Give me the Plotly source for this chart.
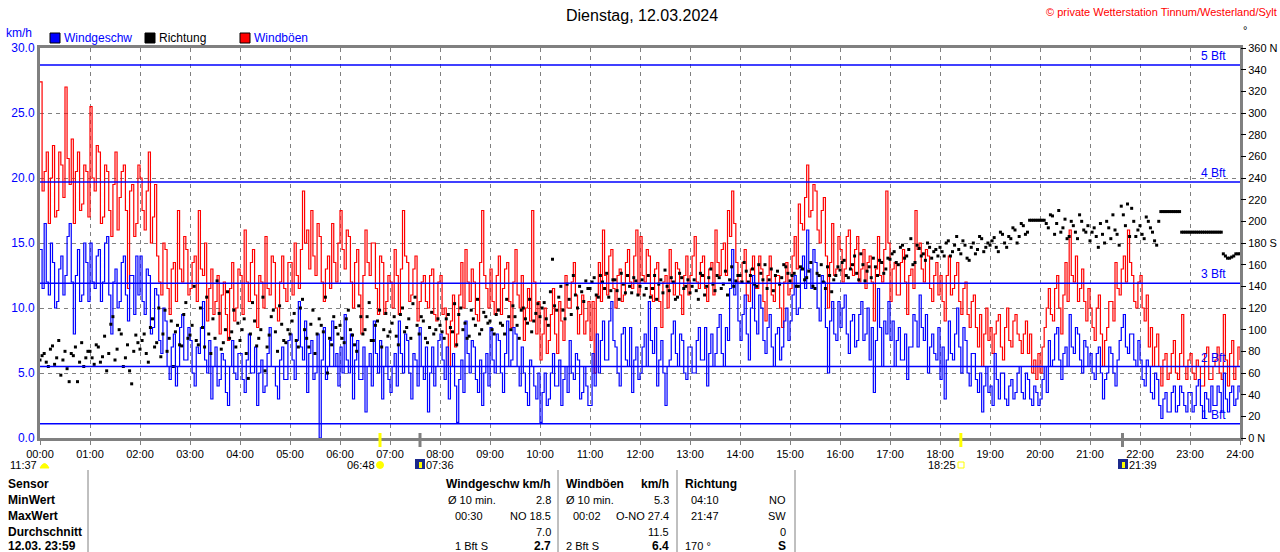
import plotly.graph_objects as go

# ---------------- data ----------------
# readings on the full 5-minute marks (00:00, 00:05, ... 24:00)
wind_speed = [
    14.5, 16.5, 11.0, 13.5, 10.5, 14.0, 12.5, 16.5, 8.0, 14.5, 11.0, 13.5,   # 00
    15.0, 11.5, 14.5, 12.0, 15.5, 8.0, 13.0, 10.5, 14.0, 9.0, 12.5, 14.0,    # 01
    14.0, 9.5, 12.5, 8.5, 11.0, 6.5, 9.0, 4.5, 8.0, 5.5, 9.5, 6.0,           # 02
    7.5, 4.0, 6.5, 10.5, 5.0, 3.0, 7.0, 4.5, 6.0, 2.5, 7.5, 4.5,             # 03
    6.5, 3.5, 8.0, 5.0, 2.5, 6.0, 4.0, 8.5, 5.5, 3.0, 7.0, 4.5,              # 04
    8.0, 4.5, 10.5, 6.0, 3.5, 7.5, 5.0, 0.0, 8.5, 5.5, 9.0, 6.5,             # 05
    7.0, 9.5, 5.0, 3.0, 7.5, 4.5, 2.0, 6.5, 9.0, 5.0, 3.0, 7.0,              # 06
    3.5, 6.5, 9.0, 5.0, 7.5, 3.0, 6.0, 8.5, 4.5, 2.0, 7.0, 5.5,              # 07
    8.0, 4.5, 3.0, 6.5, 1.2, 6.0, 9.0, 5.0, 7.0, 3.5, 2.5, 6.5,              # 08
    8.5, 5.0, 7.5, 3.5, 9.0, 6.0, 8.0, 4.0, 5.0, 2.5, 5.5, 3.0,              # 09
    1.2, 5.0, 3.0, 6.5, 4.0, 2.5, 5.5, 7.5, 4.5, 6.0, 3.5, 4.0,              # 10
    2.5, 4.0, 5.0, 9.0, 6.0, 10.5, 7.0, 4.0, 8.5, 5.5, 3.5, 7.0,             # 11
    5.0, 8.0, 10.5, 6.5, 4.0, 7.5, 2.5, 6.0, 9.0, 5.5, 7.5, 4.5,             # 12
    7.0, 5.0, 8.5, 6.0, 4.0, 8.0, 6.5, 9.5, 5.5, 7.5, 14.5, 12.0,            # 13
    7.5, 11.0, 6.0, 12.5, 8.0, 10.0, 6.5, 9.5, 5.5, 8.5, 7.0, 10.0,          # 14
    9.0, 12.5, 10.0, 14.0, 16.0, 11.5, 13.5, 9.0, 12.0, 5.0, 10.5, 7.5,      # 15
    8.5, 11.0, 6.5, 9.5, 7.5, 10.5, 8.0, 6.0, 3.5, 11.5, 5.5, 8.0,           # 16
    7.5, 5.5, 8.5, 6.0, 4.5, 7.0, 9.0, 11.0, 7.5, 5.0, 8.0, 6.0,             # 17
    4.5, 3.0, 9.0, 6.0, 10.0, 5.0, 7.5, 4.0, 6.5, 3.5, 2.0, 5.5,             # 18
    4.0, 6.5, 3.0, 5.0, 2.5, 4.5, 3.5, 5.5, 3.0, 4.5, 2.5, 3.5,              # 19
    3.0, 5.5, 7.5, 6.0, 8.5, 4.5, 7.0, 9.5, 6.5, 8.0, 5.0, 7.0,              # 20
    6.5, 4.5, 7.0, 3.0, 5.0, 6.5, 4.0, 7.5, 9.5, 6.5, 8.0, 5.5,              # 21
    6.0, 4.0, 5.5, 3.0, 4.5, 1.5, 3.5, 2.0, 4.0, 2.5, 3.5, 2.0,              # 22
    3.5, 2.5, 4.5, 1.5, 3.0, 4.0, 2.5, 3.5, 5.0, 2.0, 4.0, 3.0,              # 23
    3.5,
]
# readings half-way between the 5-minute marks (00:02:30, 00:07:30, ...)
wind_speed_mid = [
    11.5, 12.0, 15.0, 10.0, 13.0, 11.0, 15.5, 12.0, 12.5, 10.5, 15.0, 10.5,
    12.0, 14.0, 10.5, 15.0, 11.0, 12.0, 10.0, 13.5, 11.0, 12.5, 9.5, 11.0,
    10.5, 13.0, 8.0, 11.5, 7.5, 10.0, 5.5, 7.0, 4.0, 8.5, 6.0, 8.5,
    5.0, 7.0, 8.5, 6.0, 7.5, 5.5, 4.0, 6.5, 3.5, 5.5, 5.0, 6.5,
    4.5, 6.0, 5.0, 7.0, 5.0, 3.5, 6.5, 5.5, 4.0, 6.0, 4.5, 7.5,
    6.0, 7.5, 7.0, 9.0, 6.5, 4.5, 8.0, 6.0, 4.5, 7.5, 5.5, 4.0,
    5.0, 6.0, 8.0, 6.0, 4.5, 7.0, 5.5, 4.0, 6.5, 7.5, 5.5, 4.5,
    5.5, 4.0, 6.5, 8.0, 5.0, 6.5, 4.0, 5.5, 7.0, 5.0, 4.0, 7.5,
    6.0, 7.0, 5.5, 4.0, 4.5, 3.5, 6.5, 7.5, 4.5, 6.0, 5.0, 4.0,
    6.0, 8.0, 5.0, 6.5, 5.5, 8.5, 5.5, 7.0, 3.5, 6.0, 4.0, 5.0,
    3.5, 2.5, 5.0, 4.0, 6.0, 4.5, 3.5, 5.0, 6.5, 3.0, 5.5, 2.5,
    6.5, 8.0, 7.5, 6.0, 9.0, 7.5, 5.0, 8.0, 6.0, 8.5, 6.0, 4.5,
    7.0, 5.5, 7.5, 8.5, 6.0, 5.0, 5.5, 8.0, 6.5, 8.0, 5.0, 7.0,
    5.0, 7.5, 6.0, 8.5, 6.5, 5.5, 8.5, 6.5, 8.5, 11.5, 11.0, 9.0,
    9.5, 8.0, 10.0, 9.0, 11.0, 7.5, 8.5, 7.0, 8.0, 6.0, 9.0, 7.5,
    11.0, 9.5, 13.0, 11.5, 13.0, 14.5, 10.0, 12.5, 8.5, 9.0, 8.0, 10.5,
    10.0, 8.0, 9.0, 7.0, 9.5, 7.5, 10.0, 8.5, 7.5, 8.5, 9.0, 10.5,
    9.0, 7.5, 6.0, 8.0, 7.0, 9.5, 7.0, 8.5, 9.5, 7.0, 6.5, 8.5,
    7.0, 6.0, 6.5, 8.0, 7.0, 8.5, 5.0, 6.5, 4.5, 5.0, 4.0, 3.5,
    2.5, 4.5, 5.0, 3.0, 4.0, 3.0, 5.0, 3.5, 5.0, 3.0, 4.0, 2.5,
    4.5, 3.5, 5.5, 8.0, 6.0, 6.5, 5.5, 7.0, 8.5, 6.0, 7.5, 5.5,
    5.0, 6.5, 5.0, 4.5, 7.0, 5.0, 6.0, 8.5, 7.0, 8.0, 6.0, 7.5,
    4.5, 6.0, 3.5, 5.0, 2.5, 3.0, 2.0, 3.5, 2.0, 4.0, 2.5, 3.5,
    2.0, 4.0, 2.5, 3.5, 2.0, 2.5, 4.0, 2.0, 3.0, 3.5, 2.5, 4.0,
]

wind_gust = [
    27.4, 20.5, 16.5, 22.5, 17.5, 21.0, 27.0, 19.5, 16.5, 22.0, 18.0, 20.5,  # 00
    25.5, 19.0, 22.0, 17.0, 20.5, 15.5, 22.0, 18.5, 21.0, 11.5, 19.5, 16.5,  # 01
    20.0, 16.0, 22.0, 17.0, 14.0, 11.0, 14.5, 9.5, 13.5, 17.5, 12.0, 14.5,   # 02
    11.5, 14.0, 17.5, 12.5, 9.0, 13.0, 10.5, 8.0, 12.0, 7.5, 13.5, 10.0,     # 03
    12.5, 16.0, 10.5, 14.5, 8.5, 12.0, 15.5, 11.0, 13.5, 9.0, 14.0, 10.5,    # 04
    13.5, 15.0, 11.5, 19.0, 16.0, 17.5, 12.5, 15.5, 10.5, 14.0, 16.5, 12.0,  # 05
    17.5, 13.0, 15.5, 10.0, 14.5, 8.0, 16.0, 12.5, 15.0, 9.5, 13.5, 10.5,    # 06
    12.0, 14.5, 9.5, 17.5, 13.5, 11.0, 14.0, 10.5, 12.5, 10.0, 13.0, 9.0,    # 07
    12.5, 10.0, 5.5, 11.0, 8.0, 13.5, 14.5, 10.5, 12.0, 9.0, 17.5, 11.5,     # 08
    13.0, 9.5, 14.0, 11.5, 13.5, 8.5, 14.5, 10.0, 7.5, 11.5, 17.5, 8.0,      # 09
    6.0, 10.0, 7.5, 11.5, 6.5, 9.0, 12.5, 10.0, 13.5, 8.0, 11.0, 9.0,        # 10
    7.5, 5.0, 13.5, 16.0, 11.0, 14.5, 10.0, 13.0, 11.0, 14.5, 11.5, 16.0,    # 11
    15.5, 12.0, 14.0, 10.5, 13.5, 8.5, 12.5, 14.5, 11.0, 13.0, 9.5, 14.0,    # 12
    12.5, 15.5, 11.5, 14.0, 10.5, 13.5, 16.0, 12.5, 15.0, 17.5, 19.0, 13.5,  # 13
    12.0, 14.5, 10.5, 14.0, 11.5, 13.0, 9.0, 14.0, 10.5, 12.5, 8.5, 13.5,    # 14
    11.5, 15.5, 18.0, 16.0, 21.0, 17.5, 19.0, 15.0, 18.5, 10.0, 16.5, 13.0,  # 15
    14.5, 13.0, 16.0, 12.5, 15.5, 13.0, 11.5, 14.0, 9.0, 15.5, 12.0, 19.0,   # 16
    10.5, 13.5, 11.0, 14.5, 9.5, 13.0, 17.5, 15.0, 12.0, 14.0, 10.5, 13.5,   # 17
    12.5, 9.0, 14.0, 11.5, 13.5, 9.5, 12.0, 8.5, 11.0, 7.0, 5.5, 10.0,       # 18
    8.5, 8.0, 9.5, 6.0, 10.0, 7.0, 9.5, 7.5, 8.0, 6.5, 5.0, 4.5,             # 19
    5.0, 8.5, 11.5, 9.0, 12.5, 8.0, 13.5, 16.0, 12.0, 10.5, 13.0, 9.0,       # 20
    10.0, 7.5, 11.0, 5.5, 8.5, 10.5, 13.5, 11.0, 14.0, 16.0, 12.5, 10.0,     # 21
    12.5, 9.0, 7.0, 5.5, 8.0, 4.0, 6.5, 5.0, 7.5, 4.5, 9.5, 4.5,             # 22
    6.5, 4.5, 5.5, 4.0, 7.0, 4.5, 6.0, 5.0, 9.5, 4.0, 7.5, 5.5,              # 23
    6.0,
]
wind_gust_mid = [
    19.0, 22.0, 20.0, 17.0, 22.0, 18.5, 21.5, 23.0, 20.5, 17.5, 21.0, 17.0,
    20.0, 22.5, 16.5, 21.0, 17.5, 19.5, 16.0, 20.5, 17.5, 19.0, 15.5, 21.0,
    17.5, 19.0, 15.0, 19.5, 12.0, 15.0, 11.5, 13.0, 10.5, 13.0, 15.5, 11.0,
    13.5, 10.5, 13.0, 15.0, 11.5, 9.5, 12.5, 11.0, 9.5, 11.5, 9.0, 13.0,
    9.5, 12.0, 13.5, 11.0, 12.5, 10.0, 11.5, 14.0, 10.0, 12.0, 11.5, 13.5,
    11.0, 12.5, 14.5, 15.0, 13.0, 14.0, 16.5, 12.0, 13.0, 11.5, 13.5, 15.0,
    14.5, 16.0, 12.0, 13.5, 11.0, 12.5, 13.5, 15.0, 11.5, 14.0, 9.5, 12.5,
    10.0, 12.5, 13.0, 14.0, 10.5, 13.0, 9.0, 12.0, 10.5, 12.5, 9.5, 12.0,
    9.5, 8.0, 9.0, 7.0, 11.0, 10.0, 12.0, 13.0, 9.5, 13.5, 12.5, 10.0,
    10.5, 12.5, 9.5, 13.0, 10.5, 12.0, 11.0, 12.5, 10.0, 9.0, 12.0, 10.5,
    8.0, 6.5, 9.5, 8.0, 10.5, 7.5, 10.0, 12.0, 11.0, 9.5, 8.0, 10.5,
    10.5, 11.0, 10.5, 12.5, 14.0, 11.5, 12.5, 10.5, 13.5, 12.0, 14.0, 11.0,
    12.5, 14.5, 11.0, 13.0, 10.5, 12.0, 10.0, 12.0, 13.5, 11.0, 12.5, 11.0,
    14.0, 12.0, 13.5, 11.5, 13.0, 11.0, 13.5, 14.5, 12.5, 15.5, 16.5, 12.0,
    13.5, 11.0, 13.0, 11.5, 14.0, 10.5, 12.5, 11.0, 12.5, 10.0, 12.0, 11.0,
    14.0, 13.0, 16.5, 18.5, 17.0, 19.5, 16.0, 17.5, 14.0, 13.5, 12.5, 15.5,
    12.0, 15.5, 13.0, 14.5, 12.0, 14.5, 13.5, 12.0, 13.0, 12.5, 14.5, 15.0,
    13.0, 11.0, 13.5, 12.0, 12.5, 11.5, 14.5, 13.0, 14.5, 11.5, 12.5, 11.0,
    10.5, 12.5, 11.0, 12.5, 10.5, 11.5, 9.5, 10.5, 8.5, 9.5, 8.0, 7.5,
    6.5, 9.0, 7.0, 8.5, 7.5, 9.0, 8.0, 6.5, 9.0, 8.0, 6.0, 6.5,
    7.0, 10.0, 9.5, 11.5, 10.0, 11.0, 10.5, 12.5, 14.0, 11.5, 10.5, 11.5,
    8.5, 10.0, 8.0, 7.5, 10.5, 9.0, 11.5, 13.0, 12.0, 13.5, 10.5, 12.0,
    10.0, 11.0, 8.5, 7.0, 5.5, 6.0, 4.5, 6.5, 5.0, 6.5, 5.5, 6.0,
    5.0, 6.0, 4.0, 6.5, 4.5, 5.5, 7.0, 4.5, 6.0, 6.5, 4.5, 7.0,
]

wind_dir = [
    72, 78, 66, 85, 74, 58, 80, 52, 76, 52, 88, 74,              # 00
    80, 68, 84, 75, 62, 105, 72, 100, 66, 86, 50, 95,            # 01
    82, 96, 70, 110, 88, 75, 118, 92, 66, 104, 85, 125,          # 02
    95, 140, 86, 102, 130, 78, 92, 115, 88, 135, 98, 84,         # 03
    90, 110, 55, 125, 85, 100, 62, 95, 118, 80, 105, 88,         # 04
    96, 115, 84, 128, 92, 105, 78, 110, 98, 60, 86, 102,         # 05
    104, 88, 118, 95, 80, 112, 100, 125, 90, 108, 84, 115,       # 06
    98, 112, 86, 120, 102, 92, 130, 96, 108, 88, 116, 100,       # 07
    104, 92, 114, 98, 86, 120, 106, 94, 110, 128, 100, 112,      # 08
    108, 96, 118, 104, 128, 100, 112, 92, 120, 106, 98, 115,     # 09
    112, 125, 104, 165, 118, 140, 110, 128, 150, 120, 135, 145,  # 10
    138, 148, 130, 144, 152, 136, 146, 128, 142, 150, 134, 145,  # 11
    140, 132, 150, 138, 128, 146, 155, 136, 144, 130, 148, 140,  # 12
    134, 146, 128, 150, 140, 156, 136, 148, 142, 132, 158, 145,  # 13
    150, 162, 144, 156, 140, 152, 160, 146, 136, 154, 148, 158,  # 14
    145, 152, 140, 156, 148, 162, 138, 150, 144, 158, 135, 150,  # 15
    155, 164, 148, 160, 152, 170, 145, 158, 166, 150, 162, 156,  # 16
    165, 172, 160, 178, 168, 184, 162, 175, 170, 180, 166, 174,  # 17
    176, 168, 182, 172, 186, 170, 178, 164, 180, 174, 184, 176,  # 18
    178, 185, 172, 188, 176, 184, 192, 186, 196, 190, 201, 201,  # 19
    201, 201, 194, 205, 198, 190, 202, 186, 196, 184, 200, 190,  # 20
    182, 194, 176, 188, 200, 184, 192, 178, 206, 216, 212, 186,  # 21
    196, 184, 200, 190, 178, 209, 209, 209, 209, 209, 190, 190,  # 22
    190, 190, 190, 190, 190, 190, 190, 190, 170, 166, 167, 170,  # 23
    170,
]
wind_dir_mid = [
    76, 70, 82, 68, 90, 72, 64, 78, 84, 70, 66, 80,
    74, 86, 70, 94, 78, 112, 82, 96, 74, 62, 80, 88,
    90, 78, 102, 84, 120, 96, 80, 108, 98, 86, 114, 92,
    104, 90, 120, 84, 96, 110, 145, 82, 100, 92, 118, 106,
    100, 78, 96, 108, 92, 130, 84, 112, 98, 122, 90, 100,
    108, 90, 120, 100, 84, 118, 96, 104, 130, 92, 112, 96,
    92, 110, 100, 86, 122, 96, 112, 90, 104, 118, 100, 94,
    106, 94, 114, 98, 110, 124, 104, 112, 92, 102, 96, 110,
    98, 110, 102, 124, 114, 100, 92, 118, 104, 96, 116, 106,
    100, 114, 106, 96, 112, 122, 104, 118, 110, 128, 108, 124,
    120, 110, 135, 122, 130, 118, 142, 114, 132, 140, 126, 138,
    144, 132, 150, 138, 130, 146, 136, 152, 134, 140, 148, 132,
    146, 138, 130, 150, 142, 134, 140, 148, 128, 152, 138, 146,
    140, 136, 152, 132, 148, 142, 150, 138, 154, 146, 140, 150,
    144, 154, 150, 142, 160, 146, 138, 156, 150, 142, 160, 152,
    150, 140, 158, 146, 154, 140, 152, 160, 138, 150, 146, 158,
    162, 150, 156, 168, 146, 160, 154, 148, 158, 164, 152, 166,
    170, 162, 176, 166, 174, 160, 178, 168, 164, 176, 172, 168,
    172, 180, 168, 178, 174, 182, 166, 176, 170, 186, 172, 180,
    182, 176, 190, 180, 186, 194, 180, 198, 188, 201, 201, 201,
    201, 198, 206, 188, 210, 194, 184, 200, 190, 206, 192, 196,
    190, 186, 198, 180, 194, 206, 188, 214, 196, 186, 200, 192,
    188, 204, 194, 182, 200, 209, 209, 209, 209, 209, 190, 190,
    190, 190, 190, 190, 190, 190, 190, 190, 168, 166, 168, 170,
]

hour_labels = ["%02d:00" % h for h in range(25)]
kmh_ticks = [0, 5, 10, 15, 20, 25, 30]
deg_ticks = list(range(0, 361, 20))
deg_labels = [("%d N" % d if d in (0, 360) else "%d S" % d if d == 180 else str(d)) for d in deg_ticks]
bft_limits = [1.1, 5.5, 11.9, 19.7, 28.7]
bft_names = ["1 Bft", "2 Bft", "3 Bft", "4 Bft", "5 Bft"]

# astronomical marks (hours)
sun_rise, sun_set = 6 + 48 / 60, 18 + 25 / 60
moon_a, moon_b = 7 + 36 / 60, 21 + 39 / 60

# summary table
tbl_rows = ["Sensor", "MinWert", "MaxWert", "Durchschnitt", "12.03. 23:59"]
tbl_ws = [("Windgeschw km/h", "", True), ("2.8", "Ø 10 min.", False), ("NO 18.5", "00:30", False),
          ("7.0", "", False), ("2.7", "1 Bft S", True)]
tbl_wg = [("km/h", "Windböen", True), ("5.3", "Ø 10 min.", False), ("O-NO 27.4", "00:02", False),
          ("11.5", "", False), ("6.4", "2 Bft S", True)]
tbl_wd = [("", "Richtung", True), ("NO", "04:10", False), ("SW", "21:47", False),
          ("0", "", False), ("S", "170 °", True)]


def merge(full, mid):
    out = []
    for a, b in zip(full, mid):
        out += [a, b]
    out.append(full[-1])
    return out


ws = merge(wind_speed, wind_speed_mid)
wg = merge(wind_gust, wind_gust_mid)
wd = merge(wind_dir, wind_dir_mid)
hours = [i * 2.5 / 60 for i in range(len(ws))]

# ---------------- figure ----------------
F = "Liberation Sans, Arial, sans-serif"
L, R, T, B = 40, 1240, 48, 438
W, H = 1280, 552
FS = 11


def PX(x):
    return (x - L) / (R - L)


def PY(y):
    return (B - y) / (B - T)


fig = go.Figure()
fig.add_trace(go.Scatter(x=hours, y=wg, mode="lines", name="Windböen",
                         line=dict(color="#ff0000", width=1.2, shape="hv"), hoverinfo="skip"))
fig.add_trace(go.Scatter(x=hours, y=ws, mode="lines", name="Windgeschw",
                         line=dict(color="#0000ff", width=1.2, shape="hv"), hoverinfo="skip"))
fig.add_trace(go.Scatter(x=hours, y=wd, mode="markers", name="Richtung", yaxis="y2",
                         marker=dict(symbol="square", size=3, color="black", line=dict(width=0)),
                         hoverinfo="skip"))

shapes = []
ann = []

for v, n in zip(bft_limits, bft_names):
    shapes.append(dict(type="line", xref="x", yref="y", x0=0, x1=24, y0=v, y1=v,
                       line=dict(color="#0000ff", width=1.5)))
    ann.append(dict(text=n, xref="paper", yref="y", x=PX(1228), y=v, xanchor="right", yanchor="bottom",
                    showarrow=False, font=dict(family=F, size=12, color="#0000ff")))


def note(text, x, y, size=FS, color="black", xanchor="left", bold=False):
    if not text:
        return
    ann.append(dict(text=("<b>%s</b>" % text) if bold else text, x=PX(x), y=PY(y), xref="paper", yref="paper",
                    xanchor=xanchor, yanchor="middle", showarrow=False,
                    font=dict(size=size, color=color, family=F)))


# title and header
note("Dienstag, 12.03.2024", 642, 15, size=16, xanchor="center")
note("© private Wetterstation Tinnum/Westerland/Sylt", 1279, 12, size=11, color="#ff0000", xanchor="right")
note("km/h", 4, 33, size=12, color="#0000ff")
note("°", 1241, 30, size=11)

# legend
for x0, col, txt, tcol in [(50, "#0000ff", "Windgeschw", "#0000ff"), (145, "#000000", "Richtung", "#000000"),
                           (240, "#ff0000", "Windböen", "#0000ff")]:
    shapes.append(dict(type="rect", xref="paper", yref="paper", x0=PX(x0), x1=PX(x0 + 10), y0=PY(43), y1=PY(33),
                       fillcolor=col, line=dict(color="#000000", width=1)))
    note(txt, x0 + 12, 38, size=12, color=tcol)

# astronomical markers on the time axis
for hh, col in [(sun_rise, "#ffff00"), (sun_set, "#ffff00"), (moon_a, "#808080"), (moon_b, "#808080")]:
    shapes.append(dict(type="line", xref="x", yref="paper", x0=hh, x1=hh, y0=PY(433), y1=PY(447),
                       line=dict(color=col, width=3)))

SUB_Y = 465
note("11:37", 8, SUB_Y)
shapes.append(dict(type="path", xref="paper", yref="paper",
                   path="M %f,%f Q %f,%f %f,%f Z" % (PX(40), PY(SUB_Y + 3), PX(44.5), PY(SUB_Y - 6),
                                                     PX(49), PY(SUB_Y + 3)),
                   fillcolor="#ffff00", line=dict(color="#ffff00", width=1)))
note("06:48", 345, SUB_Y)
shapes.append(dict(type="circle", xref="paper", yref="paper", x0=PX(376.5), x1=PX(383.5), y0=PY(SUB_Y + 3.5),
                   y1=PY(SUB_Y - 3.5), fillcolor="#ffff00", line=dict(color="#ffff00", width=1)))
for xi in (415, 1118):
    shapes.append(dict(type="rect", xref="paper", yref="paper", x0=PX(xi), x1=PX(xi + 10), y0=PY(SUB_Y + 4),
                       y1=PY(SUB_Y - 6), fillcolor="#1c2a8c", line=dict(width=0)))
    shapes.append(dict(type="rect", xref="paper", yref="paper", x0=PX(xi + 4), x1=PX(xi + 7), y0=PY(SUB_Y + 3),
                       y1=PY(SUB_Y - 3), fillcolor="#ffff00", line=dict(width=0)))
note("07:36", 424, SUB_Y)
note("18:25", 926, SUB_Y)
shapes.append(dict(type="rect", xref="paper", yref="paper", x0=PX(958), x1=PX(964), y0=PY(SUB_Y + 3),
                   y1=PY(SUB_Y - 3), fillcolor="rgba(0,0,0,0)", line=dict(color="#ffff00", width=1)))
note("21:39", 1127, SUB_Y)

# summary table
for xs in (88, 558, 677, 795):
    shapes.append(dict(type="line", xref="paper", yref="paper", x0=PX(xs), x1=PX(xs), y0=PY(470), y1=PY(560),
                       line=dict(color="#808080", width=1)))
row_y = [484, 500, 516, 532, 546]
for i, y in enumerate(row_y):
    note(tbl_rows[i], 6, y, bold=True, size=12)
    for (val, lab, bold), lx, rx in [(tbl_ws[i], 446 if i not in (2, 4) else 453, 553),
                                     (tbl_wg[i], 564 if i != 2 else 571, 671),
                                     (tbl_wd[i], 683 if i in (0, 4) else 689, 788)]:
        note(lab, lx, y, bold=(i == 0), size=12 if i == 0 else FS)
        note(val, rx, y, xanchor="right", bold=bold, size=12 if (i == 0 or bold) else FS)

axis_common = dict(showgrid=True, gridcolor="#808080", griddash="4px,4px", gridwidth=1,
                   showline=True, linecolor="#808080", linewidth=3, mirror=True, zeroline=False,
                   automargin=False)

fig.update_layout(
    width=W, height=H, margin=dict(l=L, r=W - R, t=T, b=H - B, pad=0, autoexpand=False),
    paper_bgcolor="white", plot_bgcolor="white", showlegend=False,
    font=dict(family=F, size=FS, color="black"),
    xaxis=dict(range=[0, 24], tickvals=list(range(25)), ticktext=hour_labels, ticks="outside", ticklen=4,
               tickcolor="#808080", tickfont=dict(size=FS, color="black"), **axis_common),
    yaxis=dict(range=[0, 30], tickvals=kmh_ticks, ticktext=["%.1f" % v for v in kmh_ticks],
               tickfont=dict(size=12, color="#0000ff"), ticks="", **axis_common),
    yaxis2=dict(range=[0, 360], overlaying="y", side="right", tickvals=deg_ticks, ticktext=deg_labels,
                ticks="outside", ticklen=5, tickcolor="black", showgrid=False, showline=False, zeroline=False,
                automargin=False, tickfont=dict(size=FS, color="black")),
    shapes=shapes, annotations=ann,
)

fig.write_html("out.html", config={"displayModeBar": False},
               post_script="document.body.style.margin='0px';document.body.style.padding='0px';")
